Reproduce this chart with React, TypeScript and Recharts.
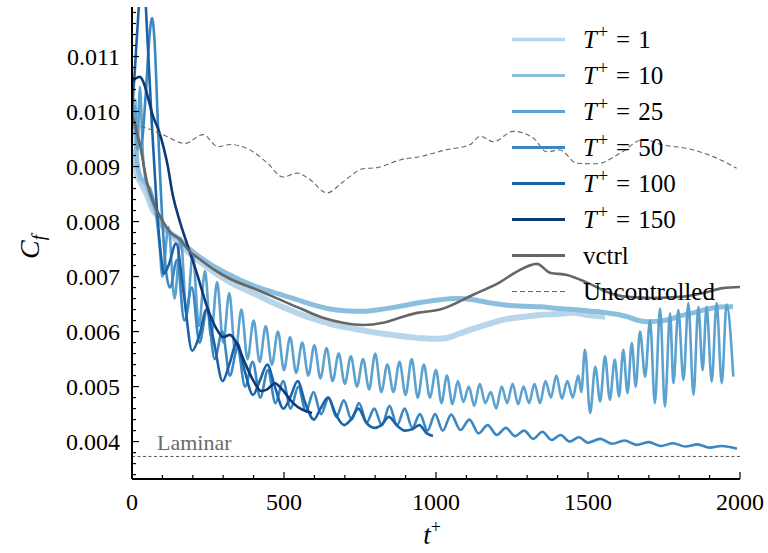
import { Line, LineChart, ReferenceLine, XAxis, YAxis } from "recharts";

const FONT = "Liberation Serif, Times New Roman, Times, serif";

const xMajorTicks = [0, 500, 1000, 1500, 2000];
const xTicks = [0, 100, 200, 300, 400, 500, 600, 700, 800, 900, 1000, 1100, 1200, 1300, 1400, 1500, 1600, 1700, 1800, 1900, 2000];
const yMajorTicks = [0.004, 0.005, 0.006, 0.007, 0.008, 0.009, 0.01, 0.011];
const yTicks = [0.0034, 0.0036, 0.0038, 0.004, 0.0042, 0.0044, 0.0046, 0.0048, 0.005, 0.0052, 0.0054, 0.0056, 0.0058, 0.006, 0.0062, 0.0064, 0.0066, 0.0068, 0.007, 0.0072, 0.0074, 0.0076, 0.0078, 0.008, 0.0082, 0.0084, 0.0086, 0.0088, 0.009, 0.0092, 0.0094, 0.0096, 0.0098, 0.01, 0.0102, 0.0104, 0.0106, 0.0108, 0.011, 0.0112, 0.0114, 0.0116, 0.0118];

const laminarCf = 0.00373;

// [t+, Cf]
const cfT1 = [[0, 0.0093], [8, 0.009], [20, 0.0088], [35, 0.00865], [49, 0.00849], [69, 0.00821], [85, 0.0081], [102, 0.00794], [130, 0.00775], [158, 0.00758], [190, 0.00742], [224, 0.00727], [270, 0.00708], [322, 0.0069], [365, 0.00678], [411, 0.00667], [450, 0.00656], [487, 0.00647], [525, 0.00638], [562, 0.0063], [605, 0.00622], [651, 0.00614], [700, 0.00608], [750, 0.00603], [790, 0.00599], [826, 0.00596], [870, 0.00593], [914, 0.0059], [950, 0.00588], [980, 0.00587], [1030, 0.00588], [1075, 0.00596], [1122, 0.00605], [1180, 0.00615], [1234, 0.00623], [1290, 0.00627], [1342, 0.0063], [1400, 0.00632], [1451, 0.00634], [1500, 0.0063], [1556, 0.00627]];

const cfT10 = [[0, 0.0096], [8, 0.0102], [16, 0.0091], [28, 0.0088], [45, 0.0087], [65, 0.0084], [85, 0.0081], [102, 0.0079], [130, 0.00778], [158, 0.00767], [185, 0.00752], [214, 0.00739], [265, 0.0072], [322, 0.00703], [375, 0.00689], [431, 0.00677], [490, 0.00667], [543, 0.00658], [600, 0.00648], [651, 0.00641], [700, 0.00638], [760, 0.00637], [815, 0.0064], [872, 0.00645], [940, 0.00652], [1013, 0.00658], [1070, 0.0066], [1122, 0.00658], [1180, 0.00652], [1234, 0.00648], [1290, 0.00646], [1342, 0.00645], [1400, 0.00642], [1451, 0.0064], [1510, 0.00637], [1563, 0.00634], [1600, 0.00631], [1628, 0.00627], [1660, 0.00621], [1694, 0.00618], [1730, 0.00619], [1760, 0.00621], [1800, 0.00628], [1845, 0.00634], [1880, 0.00639], [1911, 0.00643], [1950, 0.00645], [1977, 0.00645]];

const cfT25 = [[0, 0.0098], [10, 0.0101], [18, 0.0093], [26, 0.01045], [36, 0.0092], [48, 0.0087], [60, 0.0086], [75, 0.0083], [90, 0.0076],
  [100, 0.007], [120, 0.0079], [140, 0.0066], [160, 0.0077], [180, 0.0063], [200, 0.0074], [220, 0.0061], [240, 0.0071], [260, 0.0059], [280, 0.0069], [300, 0.0058], [320, 0.0067], [340, 0.0056], [360, 0.0064], [380, 0.0055], [400, 0.0062], [420, 0.00545], [440, 0.0061], [460, 0.0054], [480, 0.006], [500, 0.0053], [520, 0.0059], [540, 0.00525], [560, 0.0058], [580, 0.0052], [600, 0.00575], [620, 0.00515], [640, 0.0057], [660, 0.0051], [680, 0.0056], [700, 0.00505], [720, 0.00555], [740, 0.005], [760, 0.0055], [780, 0.00495], [800, 0.0056], [820, 0.0049], [840, 0.0054], [860, 0.0049], [880, 0.00545], [900, 0.00485], [920, 0.0055], [940, 0.0048], [960, 0.0054], [980, 0.0048], [1000, 0.0053],
  [1018, 0.0047], [1036, 0.0052], [1054, 0.00468], [1072, 0.0051], [1090, 0.00472], [1108, 0.005], [1126, 0.00465], [1144, 0.00505], [1162, 0.0047], [1180, 0.0049], [1198, 0.0046], [1216, 0.005], [1234, 0.0047], [1252, 0.00505], [1270, 0.00468], [1288, 0.005], [1306, 0.0047], [1324, 0.00505], [1342, 0.0047], [1360, 0.0051], [1378, 0.0048], [1396, 0.0052], [1414, 0.00478], [1432, 0.0051], [1450, 0.0048], [1468, 0.0052], [1478, 0.0049],
  [1490, 0.00567], [1507, 0.00452], [1524, 0.00536], [1540, 0.00473], [1556, 0.00555], [1572, 0.00476], [1588, 0.00549], [1602, 0.00482], [1616, 0.00567], [1630, 0.00488], [1644, 0.00579], [1657, 0.005], [1671, 0.006], [1688, 0.00518], [1704, 0.00621], [1720, 0.0047], [1737, 0.00642], [1753, 0.00464], [1770, 0.00633], [1781, 0.00506], [1797, 0.00639], [1814, 0.00512], [1830, 0.00652], [1847, 0.00485], [1863, 0.00645], [1877, 0.0053], [1890, 0.00645], [1907, 0.00509], [1923, 0.00652], [1940, 0.00506], [1956, 0.00649], [1978, 0.00518]];

const cfT50 = [[0, 0.01], [15, 0.0096], [30, 0.0094], [45, 0.0103], [58, 0.0114], [66, 0.0117], [75, 0.0112], [85, 0.0098], [100, 0.008], [112, 0.0071], [125, 0.0068], [148, 0.0073], [172, 0.0062], [197, 0.0068], [222, 0.0058], [247, 0.0064], [272, 0.0055], [297, 0.006], [322, 0.0052], [347, 0.0057], [372, 0.005], [397, 0.00545], [422, 0.0048], [447, 0.0053], [472, 0.0047], [497, 0.0051], [522, 0.0046], [547, 0.005], [572, 0.00455], [597, 0.0049], [622, 0.0045], [647, 0.0048], [672, 0.00445], [697, 0.00475], [722, 0.0044], [747, 0.0047], [772, 0.00435], [797, 0.0046], [822, 0.0043], [847, 0.00465], [872, 0.0043], [897, 0.0046], [922, 0.00425], [947, 0.0045], [972, 0.0042], [997, 0.0045], [1022, 0.0042], [1050, 0.00449], [1080, 0.00421], [1110, 0.0044], [1140, 0.00415], [1170, 0.0043], [1200, 0.00412], [1230, 0.00425], [1260, 0.0041], [1290, 0.0042], [1320, 0.00405], [1350, 0.00418], [1380, 0.00403], [1410, 0.00412], [1440, 0.004], [1470, 0.00408], [1500, 0.00398], [1540, 0.00405], [1580, 0.00396], [1620, 0.00402], [1660, 0.00394], [1700, 0.00399], [1740, 0.00392], [1780, 0.00397], [1820, 0.00391], [1860, 0.00395], [1900, 0.00389], [1940, 0.00392], [1990, 0.00387]];

const cfT100 = [[0, 0.01], [10, 0.0108], [20, 0.0117], [30, 0.0124], [40, 0.0123], [52, 0.0112], [65, 0.0098], [80, 0.0084], [95, 0.0074], [105, 0.00705], [120, 0.0072], [145, 0.0076], [170, 0.0067], [198, 0.00565], [220, 0.0059], [245, 0.0064], [270, 0.0058], [298, 0.0051], [320, 0.0054], [345, 0.0058], [370, 0.0053], [398, 0.00485], [420, 0.0051], [445, 0.0054], [470, 0.005], [498, 0.0046], [520, 0.0048], [545, 0.0051], [570, 0.0047], [598, 0.0044], [620, 0.0046], [645, 0.0048], [670, 0.0045], [698, 0.0043], [720, 0.0044], [745, 0.0046], [770, 0.00435], [798, 0.00425], [820, 0.0043], [845, 0.00445], [870, 0.0043], [898, 0.0042], [920, 0.00422], [945, 0.0043], [970, 0.00415], [990, 0.0041]];

const cfT150 = [[0, 0.01054], [12, 0.0106], [26, 0.01063], [40, 0.0105], [55, 0.0102], [70, 0.0099], [85, 0.0097], [102, 0.00939], [118, 0.009], [132, 0.00854], [158, 0.00799], [184, 0.00755], [214, 0.00705], [247, 0.00645], [280, 0.00603], [300, 0.0059], [322, 0.00594], [345, 0.00578], [370, 0.00545], [400, 0.0051], [425, 0.00492], [445, 0.00495], [470, 0.00506], [495, 0.00494], [530, 0.0047], [560, 0.00458], [592, 0.00452]];

const cfVctrl = [[3, 0.0099], [26, 0.0094], [49, 0.00872], [69, 0.00836], [102, 0.008], [125, 0.00781], [158, 0.00767], [191, 0.00745], [224, 0.00731], [266, 0.00714], [322, 0.00696], [411, 0.00676], [487, 0.00658], [562, 0.0064], [628, 0.00625], [694, 0.00616], [760, 0.00612], [826, 0.00616], [891, 0.00627], [938, 0.00634], [1013, 0.0064], [1122, 0.00667], [1211, 0.0069], [1266, 0.00709], [1332, 0.00723], [1375, 0.00707], [1431, 0.00703], [1497, 0.00689], [1563, 0.00672], [1628, 0.00663], [1714, 0.00661], [1803, 0.00663], [1878, 0.0067], [1944, 0.00679], [2000, 0.00681]];

const cfUncontrolled = [[3, 0.00976], [35, 0.00972], [102, 0.00958], [174, 0.00942], [234, 0.00958], [283, 0.00936], [322, 0.0094], [398, 0.00927], [444, 0.00907], [497, 0.00881], [543, 0.00888], [586, 0.00876], [641, 0.00852], [694, 0.00872], [760, 0.00896], [806, 0.00898], [882, 0.00912], [947, 0.00918], [1030, 0.0093], [1112, 0.0094], [1145, 0.00955], [1189, 0.00945], [1254, 0.00964], [1320, 0.00952], [1364, 0.00927], [1408, 0.0093], [1463, 0.00906], [1529, 0.00905], [1605, 0.00924], [1682, 0.00949], [1748, 0.00939], [1825, 0.00933], [1912, 0.00918], [1989, 0.00897]];

const rows = (pairs: number[][]) => pairs.map(([t, v]) => ({ t, v }));

const series = [
  { key: "T1", period: "1", data: cfT1, color: "#b8d5ea", width: 6, legendWidth: 3.5 },
  { key: "T10", period: "10", data: cfT10, color: "#8cbfdd", width: 5, legendWidth: 3 },
  { key: "T25", period: "25", data: cfT25, color: "#5ca2d0", width: 2.6, legendWidth: 3 },
  { key: "T50", period: "50", data: cfT50, color: "#3a87c2", width: 2.6, legendWidth: 3 },
  { key: "T100", period: "100", data: cfT100, color: "#1c62a8", width: 2.6, legendWidth: 3 },
  { key: "T150", period: "150", data: cfT150, color: "#0c3a78", width: 2.6, legendWidth: 3 },
  { key: "vctrl", period: "", data: cfVctrl, color: "#666666", width: 2.6, legendWidth: 3 },
  { key: "uncontrolled", period: "", data: cfUncontrolled, color: "#666666", width: 1.1, legendWidth: 1.1, dash: "5 3" },
];

const isMajor = (list: number[], v: number) => list.some((m) => Math.abs(m - v) < 1e-9);

const textStyle = { fontFamily: FONT };

const XTick = (props: any) => {
  const { x, y, payload } = props;
  const major = isMajor(xMajorTicks, payload.value);
  return (
    <g>
      <line x1={x} x2={x} y1={y} y2={y - (major ? 7 : 4)} stroke="#000" strokeWidth={1.2} />
      {major && (
        <text x={x} y={y + 31} textAnchor="middle" style={textStyle} fontSize={24} fill="#000">
          {payload.value}
        </text>
      )}
    </g>
  );
};

const YTick = (props: any) => {
  const { x, y, payload } = props;
  const major = isMajor(yMajorTicks, payload.value);
  return (
    <g>
      <line x1={x} x2={x + (major ? 7 : 4)} y1={y} y2={y} stroke="#000" strokeWidth={1.2} />
      {major && (
        <text x={x - 12} y={y} dy="0.35em" textAnchor="end" style={textStyle} fontSize={24} fill="#000">
          {payload.value.toFixed(3)}
        </text>
      )}
    </g>
  );
};

const Legend = () => (
  <svg width={768} height={553} style={{ position: "absolute", left: 0, top: 0, pointerEvents: "none" }}>
    {series.map((s, i) => {
      const cy = 39.5 + i * 36;
      return (
        <g key={s.key}>
          <line x1={512} x2={565} y1={cy} y2={cy} stroke={s.color} strokeWidth={s.legendWidth} strokeDasharray={s.dash} />
          <text x={583} y={cy + 8.5} style={textStyle} fontSize={25} fill="#000" xmlSpace="preserve">
            {s.period ? (
              <>
                <tspan fontStyle="italic">T</tspan>
                <tspan fontSize={18} dx={1} dy={-10}>+</tspan>
                <tspan dx={8} dy={10}>=</tspan>
                <tspan dx={8}>{s.period}</tspan>
              </>
            ) : s.key === "vctrl" ? "vctrl" : "Uncontrolled"}
          </text>
        </g>
      );
    })}
  </svg>
);

const LaminarLabel = (props: any) => {
  const vb = props.viewBox || {};
  return (
    <text x={(vb.x ?? 132) + 25} y={(vb.y ?? 456) - 6} style={textStyle} fontSize={22} fill="#6a6a6a">
      Laminar
    </text>
  );
};

export default function App() {
  return (
    <div style={{ position: "absolute", left: 0, top: 0, width: 768, height: 553, background: "#fff", fontFamily: FONT }}>
      <LineChart width={768} height={553} margin={{ top: 7, right: 28, bottom: 34, left: 72 }}>
        <XAxis
          dataKey="t"
          type="number"
          domain={[0, 2000]}
          allowDataOverflow
          ticks={xTicks}
          interval={0}
          tickSize={0}
          tickMargin={0}
          tick={<XTick />}
          height={40}
          axisLine={{ stroke: "#000", strokeWidth: 2 }}
          label={{
            content: () => (
              <text x={432} y={544} textAnchor="middle" style={textStyle} fontSize={27} fill="#000">
                <tspan fontStyle="italic">t</tspan>
                <tspan fontSize={18} dy={-11}>+</tspan>
              </text>
            ),
          }}
        />
        <XAxis xAxisId="top" orientation="top" type="number" domain={[0, 2000]} height={0} tick={false} tickLine={false} axisLine={{ stroke: "#000", strokeWidth: 2 }} />
        <YAxis
          type="number"
          domain={[0.00332, 0.0119]}
          allowDataOverflow
          ticks={yTicks}
          interval={0}
          tickSize={0}
          tickMargin={0}
          tick={<YTick />}
          width={60}
          axisLine={{ stroke: "#000", strokeWidth: 2 }}
          label={{
            content: () => (
              <text transform="translate(39,247) rotate(-90)" textAnchor="middle" style={textStyle} fontSize={28} fill="#000">
                <tspan fontStyle="italic">C</tspan>
                <tspan fontStyle="italic" fontSize={19} dy={6}>f</tspan>
              </text>
            ),
          }}
        />
        <YAxis yAxisId="right" orientation="right" type="number" domain={[0, 1]} width={0} tick={false} tickLine={false} axisLine={{ stroke: "#000", strokeWidth: 2 }} />
        <ReferenceLine y={laminarCf} stroke="#555" strokeWidth={1} strokeDasharray="3 2.5" label={<LaminarLabel />} />
        {series.map((s) => (
          <Line
            key={s.key}
            data={rows(s.data)}
            dataKey="v"
            type="monotone"
            stroke={s.color}
            strokeWidth={s.width}
            strokeDasharray={s.dash}
            dot={false}
            activeDot={false}
            isAnimationActive={false}
          />
        ))}
      </LineChart>
      <Legend />
    </div>
  );
}
